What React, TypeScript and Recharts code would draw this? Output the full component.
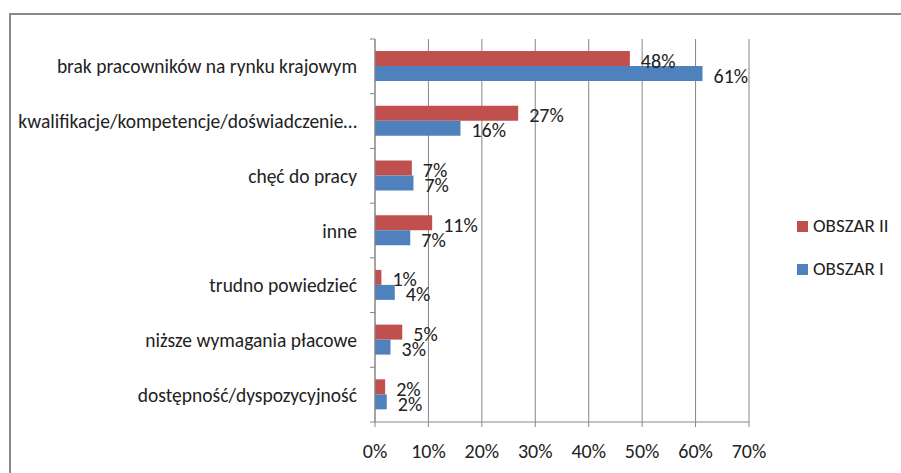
import React from "react";
import { BarChart, Bar, XAxis, YAxis, CartesianGrid, LabelList, Legend } from "recharts";

const categories = [
	"brak pracowników na rynku krajowym",
	"kwalifikacje/kompetencje/doświadczenie…",
	"chęć do pracy",
	"inne",
	"trudno powiedzieć",
	"niższe wymagania płacowe",
	"dostępność/dyspozycyjność",
];
const obszarII = [47.7, 26.8, 6.9, 10.7, 1.2, 5.1, 1.9];
const obszarI = [61.3, 16.0, 7.2, 6.6, 3.7, 2.9, 2.2];
const xTicks = [0, 10, 20, 30, 40, 50, 60, 70];

const data = categories.map((name, i) => ({ name, II: obszarII[i], I: obszarI[i] }));

const FONT = "Carlito, Lato, sans-serif";
const RED = "#C0504D";
const BLUE = "#4F81BD";
const AXIS = "#868686";
const TEXT = "#222";

const PLOT_TOP = 39;
const PLOT_LEFT = 375;
const PLOT_H = 383;
const BAND = PLOT_H / categories.length;

const CategoryTick = (props: any) => {
	const { x, y, payload, index } = props;
	return (
		<g>
			<line x1={PLOT_LEFT} x2={PLOT_LEFT - 5} y1={y - BAND / 2} y2={y - BAND / 2} stroke={AXIS} />
			{index === categories.length - 1 && (
				<line x1={PLOT_LEFT} x2={PLOT_LEFT - 5} y1={y + BAND / 2} y2={y + BAND / 2} stroke={AXIS} />
			)}
			<text x={x} y={y} textAnchor="end" dominantBaseline="central" fontSize={19.5} fill={TEXT} fontFamily={FONT}>
				{payload.value}
			</text>
		</g>
	);
};

const ValueLabel = (props: any) => {
	const { x, y, width, height, value } = props;
	return (
		<text
			x={x + width + 11}
			y={y + height / 2 + 2}
			dominantBaseline="central"
			fontSize={20}
			fill={TEXT}
			fontFamily={FONT}
		>
			{Math.round(value)}%
		</text>
	);
};

const LegendBox = () => (
	<div style={{ fontFamily: FONT, fontSize: 19, color: TEXT, lineHeight: "22px" }}>
		{[
			{ label: "OBSZAR II", color: RED },
			{ label: "OBSZAR I", color: BLUE },
		].map((it, i) => (
			<div key={it.label} style={{ display: "flex", alignItems: "center", marginTop: i ? 21 : 0 }}>
				<span style={{ width: 11, height: 11, background: it.color, marginRight: 5, display: "inline-block" }} />
				<span>{it.label}</span>
			</div>
		))}
	</div>
);

export default function App() {
	return (
		<div style={{ position: "absolute", left: 0, top: 0, width: 901, height: 473, overflow: "hidden", background: "#fff" }}>
			<div
				style={{
					position: "absolute",
					left: 9,
					top: 13,
					width: 1000,
					height: 1000,
					borderTop: "2px solid #8a8a8a",
					borderLeft: "2px solid #8a8a8a",
				}}
			/>
			<BarChart
				width={901}
				height={473}
				data={data}
				layout="vertical"
				margin={{ top: PLOT_TOP, right: 152, left: 0, bottom: 0 }}
				barCategoryGap="22%"
				barGap={0}
				style={{ position: "absolute", left: 0, top: 0 }}
			>
				<CartesianGrid horizontal={false} stroke={AXIS} strokeWidth={1} />
				<XAxis
					type="number"
					domain={[0, 70]}
					ticks={xTicks}
					tickFormatter={(v: number) => `${v}%`}
					stroke={AXIS}
					tickSize={5}
					tickMargin={17}
					height={51}
					tick={{ fontSize: 20, fill: TEXT, fontFamily: FONT }}
				/>
				<YAxis
					type="category"
					dataKey="name"
					width={PLOT_LEFT}
					stroke={AXIS}
					tickLine={false}
					tick={<CategoryTick />}
					tickMargin={12}
					interval={0}
				/>
				<Legend
					layout="horizontal"
					verticalAlign="middle"
					align="center"
					content={<LegendBox />}
					wrapperStyle={{ position: "absolute", left: 797, top: 215, width: 110 }}
				/>
				<Bar dataKey="II" name="OBSZAR II" fill={RED} isAnimationActive={false}>
					<LabelList dataKey="II" content={<ValueLabel />} />
				</Bar>
				<Bar dataKey="I" name="OBSZAR I" fill={BLUE} isAnimationActive={false}>
					<LabelList dataKey="I" content={<ValueLabel />} />
				</Bar>
			</BarChart>
		</div>
	);
}
